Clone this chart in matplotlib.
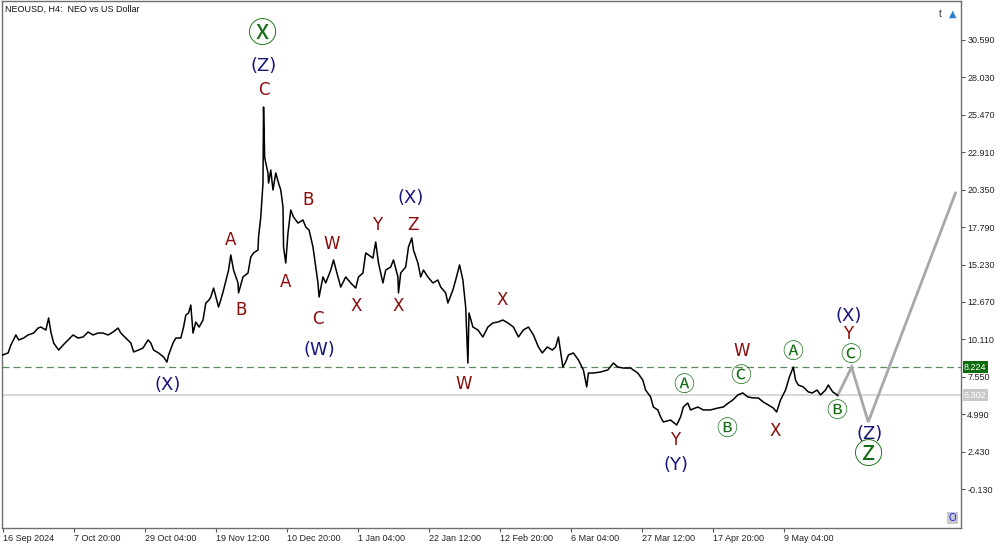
import numpy as np
import matplotlib
matplotlib.use("Agg")
import matplotlib.pyplot as plt
from matplotlib.patches import Rectangle

# H4 bar number (counted from 16 Sep 2024 00:00) and NEOUSD price
bars = [0, 10, 15, 24, 29, 38, 46, 56, 64, 69, 78, 83, 87, 92, 101, 109, 118, 127,
        136, 145, 154, 163, 172, 181, 190, 199, 208, 213, 222, 231, 236, 245, 253, 262,
        267, 272, 281, 290, 296, 299, 307, 312, 321, 326, 330, 335, 339, 343, 348, 354,
        361, 366, 372, 375, 380, 389, 393, 398, 407, 411, 416, 424, 425, 433, 442, 447,
        452, 460, 461, 465, 469, 470, 472, 474, 478, 479, 483, 487, 492, 497, 501, 505,
        506, 510, 514, 519, 524, 532, 541, 546, 552, 559, 564, 568, 570, 577, 582, 591,
        596, 604, 609, 618, 627, 636, 641, 649, 654, 659, 667, 672, 677, 685, 690, 699,
        704, 712, 713, 717, 726, 731, 737, 740, 748, 753, 758, 766, 775, 784, 789, 798,
        802, 811, 816, 823, 829, 834, 838, 840, 847, 856, 865, 874, 883, 892, 901, 910,
        920, 929, 938, 947, 956, 965, 972, 981, 990, 996, 1001, 1009, 1014, 1019, 1028,
        1037, 1046, 1052, 1055, 1064, 1077, 1090, 1100, 1108, 1118, 1131, 1144, 1153,
        1158, 1167, 1172, 1180, 1185, 1190, 1203, 1214, 1221, 1226, 1234, 1239, 1252,
        1262, 1275, 1288, 1298, 1307, 1315, 1324, 1333, 1342, 1352, 1361, 1370, 1379,
        1388, 1394, 1401, 1410, 1417, 1424, 1428, 1433, 1442, 1451, 1458, 1467, 1473,
        1482, 1487, 1495, 1504]
prices = [9.05, 9.19, 9.73, 10.42, 10.08, 10.21, 10.42, 10.55, 10.89, 10.96, 10.76, 11.58,
          10.62, 9.87, 9.39, 9.73, 10.08, 10.42, 10.21, 10.28, 10.62, 10.42, 10.55, 10.55,
          10.42, 10.62, 10.89, 10.55, 10.21, 9.87, 9.26, 9.39, 9.53, 10.08, 9.87, 9.39,
          9.19, 8.91, 8.57, 9.05, 9.87, 10.21, 10.21, 10.96, 11.78, 11.92, 12.46, 10.55,
          11.30, 10.96, 11.44, 12.60, 12.81, 13.01, 13.62, 12.33, 12.81, 13.49, 14.85,
          15.88, 14.85, 13.97, 13.29, 14.38, 14.65, 15.74, 16.02, 16.22, 17.11, 18.47,
          20.79, 25.98, 22.57, 22.16, 21.48, 20.79, 21.68, 20.32, 21.48, 20.79, 20.32,
          19.16, 16.43, 15.33, 17.38, 18.95, 18.47, 18.06, 18.27, 17.79, 17.58, 16.43,
          15.06, 13.97, 13.01, 14.38, 13.97, 14.85, 15.54, 14.38, 13.69, 14.38, 13.97,
          13.62, 14.38, 14.65, 16.02, 15.88, 15.67, 16.77, 15.33, 13.97, 14.85, 15.06,
          15.54, 14.38, 13.29, 14.65, 15.06, 16.43, 17.04, 16.22, 15.33, 14.38, 14.85,
          14.38, 13.97, 14.17, 13.69, 13.29, 12.60, 13.49, 14.17, 15.20, 14.17, 12.33,
          8.50, 11.92, 10.96, 10.76, 10.28, 10.96, 11.24, 11.30, 11.44, 11.24, 10.96,
          10.28, 10.76, 10.96, 10.42, 9.60, 9.19, 9.60, 9.39, 9.60, 10.28, 8.23, 8.57,
          9.05, 9.19, 8.71, 8.03, 6.87, 7.82, 7.82, 7.89, 8.03, 8.50, 8.23, 8.16, 8.16,
          7.82, 7.34, 6.66, 6.19, 5.50, 5.30, 4.82, 4.48, 4.61, 4.27, 4.82, 5.50, 5.77,
          5.30, 5.50, 5.30, 5.30, 5.43, 5.50, 5.77, 5.98, 6.32, 6.46, 6.19, 6.12, 6.12,
          5.84, 5.64, 5.43, 5.16, 5.98, 6.66, 7.55, 8.23, 7.34, 7.00, 6.87, 6.53, 6.46,
          6.66, 6.32, 6.66, 7.00, 6.53, 6.30]

# projected path (grey zigzag)
proj_bars = [1504, 1529, 1559, 1716]
proj_prices = [6.30, 8.22, 4.48, 20.11]

level_hi = 8.224
last_price = 6.302

ytick_vals = [30.590, 28.030, 25.470, 22.910, 20.350, 17.790, 15.230, 12.670,
              10.110, 7.550, 4.990, 2.430, -0.130]
xtick_labels = ['16 Sep 2024', '7 Oct 20:00', '29 Oct 04:00', '19 Nov 12:00',
                '10 Dec 20:00', '1 Jan 04:00', '22 Jan 12:00', '12 Feb 20:00',
                '6 Mar 04:00', '27 Mar 12:00', '17 Apr 20:00', '9 May 04:00']

RED = '#8b0a0a'
BLUE = '#17177a'
GREEN = '#157015'

# wave labels: (text, bar, price, colour, size)
labels = [
    ('\u24cd', 468, 30.90, GREEN, 21),
    ('(Z)', 470, 28.78, BLUE, 13),
    ('C', 470, 27.14, RED, 12),
    ('A', 411, 16.90, RED, 12),
    ('B', 429, 12.12, RED, 12),
    ('(X)', 298, 7.00, BLUE, 13),
    ('A', 510, 14.03, RED, 12),
    ('B', 551, 19.63, RED, 12),
    ('C', 568, 11.51, RED, 12),
    ('(W)', 570, 9.39, BLUE, 13),
    ('W', 593, 16.63, RED, 12),
    ('X', 636, 12.40, RED, 12),
    ('Y', 674, 17.93, RED, 12),
    ('X', 712, 12.40, RED, 12),
    ('(X)', 735, 19.77, BLUE, 13),
    ('Z', 739, 17.93, RED, 12),
    ('W', 830, 7.07, RED, 12),
    ('X', 899, 12.81, RED, 12),
    ('Y', 1212, 3.25, RED, 12),
    ('(Y)', 1212, 1.54, BLUE, 13),
    ('\u24b6', 1226, 7.00, GREEN, 15),
    ('\u24b7', 1304, 4.00, GREEN, 15),
    ('\u24b8', 1329, 7.62, GREEN, 15),
    ('W', 1331, 9.32, RED, 12),
    ('\u24b6', 1423, 9.26, GREEN, 15),
    ('X', 1392, 3.86, RED, 12),
    ('\u24b7', 1502, 5.23, GREEN, 15),
    ('\u24b8', 1527, 9.05, GREEN, 15),
    ('Y', 1523, 10.49, RED, 12),
    ('(X)', 1523, 11.71, BLUE, 13),
    ('(Z)', 1561, 3.66, BLUE, 13),
    ('\u24cf', 1559, 2.16, GREEN, 21),
]

plt.rcParams['lines.scale_dashes'] = False
fig = plt.figure(figsize=(10, 5.45), dpi=100)
ax = fig.add_axes([0.002, 17 / 545, 0.959, 527 / 545])

ax.axhline(last_price, color='#d4d4d4', lw=1.3, zorder=1)
ax.axhline(level_hi, color='#5e8a5e', lw=0.9, ls=(0, (5, 3)), zorder=1)
ax.plot(bars, prices, color='black', lw=1.1, zorder=3)
ax.plot(proj_bars, proj_prices, color='#a8a8a8', lw=2, zorder=2, solid_joinstyle='miter')

for txt, bx, py, col, fs in labels:
    ax.text(bx, py, txt, color=col, fontsize=fs, ha='center', va='center',
            family=['DejaVu Sans', 'Noto Sans CJK SC'], zorder=4)

ax.set_xlim(-1, 1726)
ax.set_ylim(-2.76, 33.22)

ax.yaxis.tick_right()
ax.set_yticks(ytick_vals)
ax.set_yticklabels(['%.3f' % v for v in ytick_vals])
ax.set_xticks(np.arange(len(xtick_labels)) * 128)
ax.set_xticklabels(xtick_labels)
for lab in ax.get_xticklabels():
    lab.set_horizontalalignment('left')
ax.tick_params(axis='both', direction='out', length=3, width=0.8, color='#555555',
               labelsize=6.5, labelcolor='#222222', pad=1.5)
for lab in ax.get_xticklabels() + ax.get_yticklabels():
    lab.set_family('Liberation Sans')
for sp in ax.spines.values():
    sp.set_color('#6e6e6e')
    sp.set_linewidth(1)

# price tags on the right scale
for val, face, tc in [(level_hi, '#0b6b0b', 'white'), (last_price, '#c8c8c8', 'white')]:
    ax.text(1.003, val, '%.3f' % val, transform=ax.get_yaxis_transform(),
            ha='left', va='center', fontsize=6.5, color=tc, family='Liberation Sans',
            bbox=dict(boxstyle='square,pad=0.15', fc=face, ec='none'), zorder=5)

ax.text(0.003, 0.992, 'NEOUSD, H4:  NEO vs US Dollar', transform=ax.transAxes,
        ha='left', va='top', fontsize=6.5, family='Liberation Sans', color='#111111')
ax.text(0.978, 0.985, 't', transform=ax.transAxes, ha='center', va='top',
        fontsize=7, color='#333333', family='Liberation Sans')
ax.text(0.991, 0.985, '\u25b2', transform=ax.transAxes, ha='center', va='top',
        fontsize=7, color='#2a7fd0')
ax.add_patch(Rectangle((0.985, 0.008), 0.012, 0.022, transform=ax.transAxes,
                       fc='#c8c8c8', ec='none', zorder=5))
ax.text(0.991, 0.019, 'O', transform=ax.transAxes, ha='center', va='center',
        fontsize=7, color='#1a1aff', family='Liberation Sans', zorder=6)

fig.savefig('out.png', dpi=100)
